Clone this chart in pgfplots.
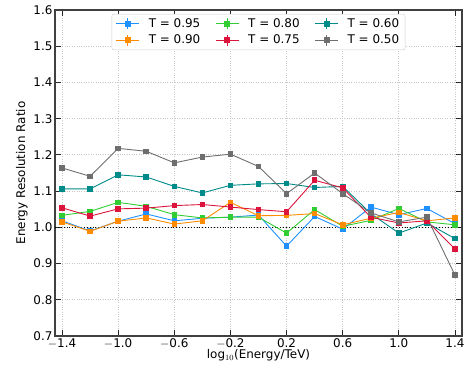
\documentclass[border=0pt]{standalone}
\usepackage{pgfplots}
\pgfplotsset{compat=1.18}
\usepackage{fontspec}
\setmainfont{DejaVu Sans}
\definecolor{cblue}{HTML}{1E90FF}
\definecolor{corange}{HTML}{FF8C00}
\definecolor{cgreen}{HTML}{32CD32}
\definecolor{cred}{HTML}{DC143C}
\definecolor{cteal}{HTML}{008B8B}
\definecolor{cgray}{HTML}{6E6E6E}
\newcommand{\ff}{\fontsize{12}{14}\selectfont}
\pgfplotstableread{
x     b95   o90   g80   r75   t60   k50
-1.4  1.018 1.015 1.033 1.054 1.106 1.164
-1.2  0.990 0.989 1.044 1.031 1.106 1.141
-1.0  1.017 1.017 1.069 1.051 1.145 1.218
-0.8  1.037 1.026 1.058 1.053 1.139 1.210
-0.6  1.018 1.009 1.035 1.060 1.113 1.178
-0.4  1.025 1.018 1.026 1.063 1.095 1.194
-0.2  1.028 1.069 1.028 1.056 1.116 1.202
 0.0  1.034 1.032 1.028 1.049 1.120 1.168
 0.2  0.948 1.033 0.984 1.043 1.121 1.093
 0.4  1.030 1.038 1.049 1.130 1.110 1.150
 0.6  0.995 1.007 1.003 1.109 1.113 1.093
 0.8  1.056 1.025 1.019 1.028 1.038 1.040
 1.0  1.035 1.041 1.052 1.012 0.984 1.015
 1.2  1.052 1.018 1.015 1.018 1.012 1.028
 1.4  1.010 1.026 1.007 0.940 0.969 0.868
}\datatable
\begin{document}
\begin{tikzpicture}[font=\ff]
\begin{axis}[
  at={(0,0)}, anchor=south west,
  scale only axis, width=407bp, height=326bp,
  xmin=-1.45, xmax=1.45, ymin=0.7, ymax=1.6,
  xtick={-1.4,-1.0,-0.6,-0.2,0.2,0.6,1.0,1.4},
  xticklabels={$-$1.4,$-$1.0,$-$0.6,$-$0.2,0.2,0.6,1.0,1.4},
  ytick={0.7,0.8,0.9,1.0,1.1,1.2,1.3,1.4,1.5,1.6},
  yticklabels={0.7,0.8,0.9,1.0,1.1,1.2,1.3,1.4,1.5,1.6},
  tick label style={font=\ff},
  label style={font=\ff},
  xticklabel style={yshift=0.5bp},
  yticklabel style={xshift=1bp},
  tick align=inside, major tick length=6bp,
  tick style={black!85, line width=0.9pt},
  axis line style={black!75, line width=1.1pt},
  grid=major,
  major grid style={dotted, black!22, line width=0.8pt},
  xlabel={log$_{10}$(Energy/TeV)},
  ylabel={Energy Resolution Ratio},
  xlabel style={yshift=6bp},
  ylabel style={yshift=-1bp},
  legend columns=3,
  legend style={at={(0.5,0.988)}, anchor=north, draw=black!20, rounded corners=2pt,
    font=\ff, inner xsep=4bp, inner ysep=2.5bp,
    row sep=2bp,
    /tikz/every odd column/.append style={column sep=7bp},
    /tikz/every even column/.append style={column sep=13bp}},
  legend cell align=left,
  legend image code/.code={
    \draw[#1, mark=none] (-3bp,0bp) -- (20bp,0bp);
    \draw[#1, mark=none, line width=0.8pt] (8.5bp,-5.5bp) -- (8.5bp,5.5bp);
    \draw[#1] plot coordinates {(8.5bp,0bp)};
  },
  every axis plot/.append style={line width=0.9pt, mark=square*, mark size=2.3bp, mark options={solid}},
]
\addplot[black, dotted, line width=0.9pt, mark=none, forget plot] coordinates {(-1.45,1.0) (1.45,1.0)};
\addplot[cblue] table[x=x,y=b95] {\datatable};
\addlegendentry{T = 0.95}
\addplot[cgreen] table[x=x,y=g80] {\datatable};
\addlegendentry{T = 0.80}
\addplot[cteal] table[x=x,y=t60] {\datatable};
\addlegendentry{T = 0.60}
\addplot[corange] table[x=x,y=o90] {\datatable};
\addlegendentry{T = 0.90}
\addplot[cred] table[x=x,y=r75] {\datatable};
\addlegendentry{T = 0.75}
\addplot[cgray] table[x=x,y=k50] {\datatable};
\addlegendentry{T = 0.50}
\end{axis}
\pgfresetboundingbox
\useasboundingbox (-55bp,-38bp) rectangle (409bp,336bp);
\end{tikzpicture}
\end{document}
